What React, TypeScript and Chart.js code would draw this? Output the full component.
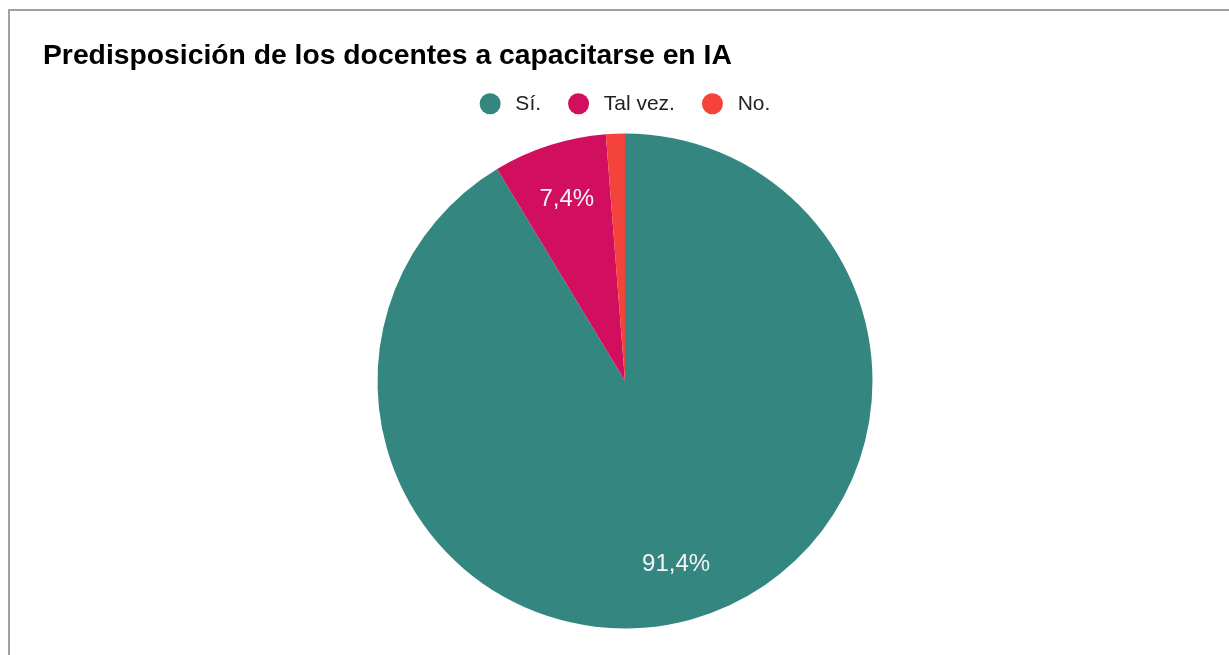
import React, { useEffect, useRef } from "react";
import { Chart, registerables } from "chart.js";

Chart.register(...registerables);

const TITLE = "Predisposición de los docentes a capacitarse en IA";
const categories = ["Sí.", "Tal vez.", "No."];
const counts = [74, 6, 1];
const colors = ["#338780", "#D20F5E", "#F4433A"];

const FONT = '"Liberation Sans", Arial, Helvetica, sans-serif';

const sliceLabels = {
  id: "sliceLabels",
  afterDatasetsDraw(chart: any) {
    const ctx = chart.ctx;
    const meta = chart.getDatasetMeta(0);
    const data = chart.data.datasets[0].data as number[];
    const total = data.reduce((a, b) => a + b, 0);
    ctx.save();
    ctx.font = `24px ${FONT}`;
    ctx.fillStyle = "#f4f4f4";
    ctx.textAlign = "center";
    ctx.textBaseline = "middle";
    meta.data.forEach((arc: any, i: number) => {
      const pct = (data[i] / total) * 100;
      if (pct < 5) return;
      const p = arc.getProps(["x", "y", "startAngle", "endAngle", "outerRadius"], true);
      const mid = (p.startAngle + p.endAngle) / 2;
      const r = p.outerRadius * 0.77;
      const x = p.x + Math.cos(mid) * r;
      const y = p.y + Math.sin(mid) * r;
      ctx.fillText(pct.toFixed(1).replace(".", ",") + "%", x, y);
    });
    ctx.restore();
  },
};

export default function App() {
  const ref = useRef<HTMLCanvasElement>(null);
  useEffect(() => {
    if (!ref.current) return;
    const chart = new Chart(ref.current, {
      type: "pie",
      data: {
        labels: categories,
        datasets: [
          {
            data: counts,
            backgroundColor: colors,
            borderWidth: 0,
            radius: 247.5,
          } as any,
        ],
      },
      options: {
        animation: false,
        responsive: false,
        maintainAspectRatio: false,
        layout: { padding: { left: 33, right: 33, top: 0, bottom: 73.3 } },
        plugins: {
          title: {
            display: true,
            text: TITLE,
            align: "start",
            color: "#000",
            font: { family: FONT, size: 28.3, weight: "bold" },
            padding: { top: 28.5, bottom: -7.2 },
          },
          legend: {
            display: true,
            position: "top",
            align: "center",
            labels: {
              usePointStyle: true,
              pointStyle: "circle",
              pointStyleWidth: 21,
              boxHeight: 15,
              padding: 27,
              color: "#222",
              font: { family: FONT, size: 21 },
              generateLabels: (chart: any) =>
                (Chart as any).overrides.pie.plugins.legend.labels
                  .generateLabels(chart)
                  .map((l: any) => ({ ...l, text: "\u2009" + l.text })),
            },
          },
          tooltip: { enabled: false },
        },
      },
      plugins: [sliceLabels],
    });
    return () => chart.destroy();
  }, []);

  return (
    <div
      style={{
        position: "fixed",
        left: 8,
        top: 9,
        right: 0,
        bottom: 0,
        overflow: "hidden",
      }}
    >
      <div
        style={{
          width: 1240,
          height: 720,
          border: "2px solid #a0a0a0",
          background: "#fff",
        }}
      >
        <canvas ref={ref} width={1230} height={700} style={{ display: "block", width: 1230, height: 700 }} />
      </div>
    </div>
  );
}
